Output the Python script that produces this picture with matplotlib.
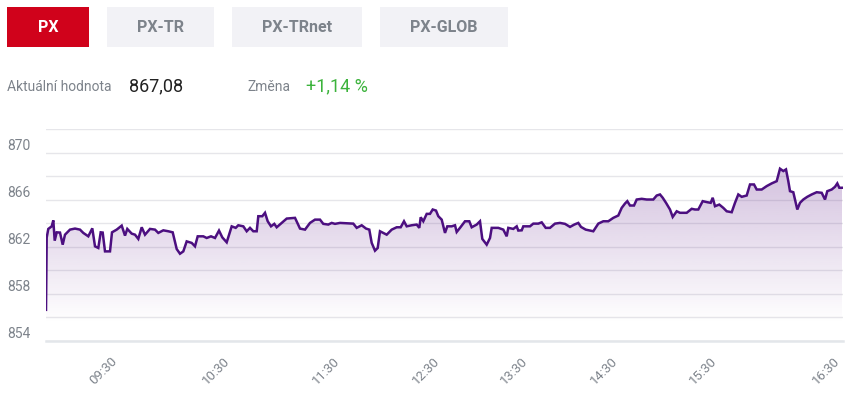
import numpy as np
import matplotlib
matplotlib.use("Agg")
import matplotlib.pyplot as plt
from matplotlib.patches import Rectangle
from matplotlib.colors import to_rgb

W, H = 847, 398

# buttons / header
buttons = ["PX", "PX-TR", "PX-TRnet", "PX-GLOB"]
current_label = "Aktuální hodnota"
current_value = "867,08"
change_label = "Změna"
change_value = "+1,14 %"

# ordinal positions of the intraday points and index values
pos = [0.0, 0.7, 2.3, 5.7, 7.3, 8.7, 10.7, 14.0, 16.7, 19.0, 24.0, 29.0, 34.0, 37.3, 42.3,
       46.3, 49.0, 52.3, 54.7, 56.7, 59.0, 64.0, 66.0, 70.7, 75.7, 79.0, 81.3, 85.7, 89.0,
       92.3, 95.7, 99.0, 104.0, 109.0, 112.3, 117.3, 122.3, 126.7, 130.7, 134.0, 137.3,
       140.7, 144.0, 145.7, 149.0, 151.7, 157.3, 160.7, 165.0, 169.0, 173.0, 176.3, 180.7,
       185.7, 189.7, 192.3, 197.3, 200.7, 204.0, 207.3, 210.7, 212.3, 216.3, 219.0, 221.7,
       225.0, 228.3, 230.7, 235.7, 240.7, 249.0, 254.0, 259.0, 264.0, 269.0, 274.0, 277.3,
       282.3, 285.7, 289.0, 294.0, 307.3, 310.7, 315.7, 320.0, 323.3, 325.7, 329.0, 331.7,
       334.0, 337.3, 340.7, 345.7, 350.7, 354.7, 358.0, 360.7, 365.7, 370.7, 373.3, 374.7,
       377.3, 380.7, 384.0, 386.7, 390.0, 392.3, 395.7, 399.0, 401.3, 405.7, 409.0, 410.7,
       414.0, 419.0, 423.3, 425.7, 430.7, 434.0, 436.3, 440.7, 444.0, 445.7, 452.3, 457.3,
       460.7, 462.3, 467.3, 470.7, 472.3, 475.7, 477.3, 484.0, 487.3, 492.3, 495.7, 499.7,
       504.0, 509.0, 514.0, 519.0, 524.0, 528.3, 532.3, 535.0, 539.7, 547.3, 552.3, 557.3,
       562.3, 567.3, 572.3, 575.7, 579.0, 581.3, 584.0, 588.0, 590.7, 595.7, 600.7, 607.3,
       610.7, 614.0, 616.7, 620.0, 624.0, 626.7, 630.7, 634.0, 640.7, 645.7, 649.0, 652.3,
       656.7, 661.3, 664.7, 666.7, 669.0, 673.3, 677.3, 680.7, 685.7, 689.0, 692.3, 695.7,
       700.7, 704.0, 708.0, 710.7, 715.7, 720.7, 725.7, 730.7, 734.0, 737.3, 740.0, 742.3,
       744.0, 747.3, 751.3, 754.0, 757.3, 761.3, 765.7, 770.7, 775.7, 779.0, 781.3, 785.7,
       789.0, 791.3, 793.3, 796.0]
vals = [856.65, 862.79, 863.53, 863.75, 864.26, 862.53, 863.24, 863.22, 862.19, 863.04, 863.47,
        863.56, 863.47, 863.19, 862.90, 863.58, 862.05, 861.91, 863.24, 863.22, 861.62, 861.62,
        863.24, 863.47, 863.81, 862.96, 863.53, 863.13, 863.04, 862.68, 863.67, 863.04, 863.53,
        863.47, 863.19, 863.41, 863.33, 863.24, 861.82, 861.42, 861.62, 862.47, 862.39, 862.34,
        862.05, 862.90, 862.90, 862.76, 862.90, 862.76, 863.39, 862.81, 862.39, 863.75, 863.62,
        863.84, 863.75, 863.33, 863.62, 863.33, 863.33, 864.61, 864.61, 864.90, 864.18, 863.75,
        863.96, 863.67, 864.04, 864.41, 864.47, 863.56, 863.47, 864.04, 864.32, 864.32, 863.96,
        863.90, 864.04, 863.96, 864.04, 863.98, 863.62, 863.84, 863.56, 863.47, 862.34, 861.68,
        861.91, 863.33, 863.19, 863.04, 863.47, 863.67, 863.67, 864.18, 863.75, 863.84, 863.90,
        863.62, 864.52, 864.18, 864.81, 864.81, 865.18, 865.09, 864.61, 864.32, 863.19, 863.75,
        863.75, 863.84, 863.27, 863.62, 864.18, 864.18, 863.67, 863.90, 864.18, 862.68, 862.19,
        862.76, 863.62, 863.62, 863.47, 862.90, 863.62, 863.53, 863.75, 863.39, 863.41, 863.75,
        863.75, 863.98, 863.98, 864.09, 863.62, 863.62, 863.98, 864.04, 863.96, 863.70, 863.90,
        864.04, 863.70, 863.47, 863.33, 863.98, 864.18, 864.18, 864.47, 864.67, 865.32, 865.69,
        865.89, 865.52, 865.52, 866.03, 866.09, 866.03, 866.03, 866.37, 866.46, 866.18, 865.75,
        865.18, 864.55, 865.03, 864.90, 864.90, 865.24, 865.18, 865.18, 865.89, 865.80, 865.75,
        866.18, 865.46, 865.60, 865.32, 865.03, 864.95, 865.75, 866.46, 866.26, 866.37, 867.31,
        867.31, 866.88, 866.88, 867.17, 867.40, 867.59, 868.65, 868.45, 868.59, 867.59, 866.74,
        866.65, 865.18, 865.75, 866.03, 866.26, 866.46, 866.65, 866.60, 866.03, 866.74, 866.88,
        867.11, 867.40, 867.03, 867.03]

tick_pos = [74, 186, 296, 396, 484, 574, 673, 796]
tick_labels = ["09:30", "10:30", "11:30", "12:30", "13:30", "14:30", "15:30", "16:30"]
y_ticks = [854, 858, 862, 866, 870]
y_grid = [856, 860, 864, 868, 872]

LINE = "#4c0f80"
FILL = "#6a2c91"
GRAY = "#7d838b"

plt.rcParams['font.family'] = ['Roboto', 'DejaVu Sans']

fig = plt.figure(figsize=(W / 100, H / 100), dpi=100)
fig.patch.set_facecolor("white")

def fx(x):
    return x / W

def fy(y):
    return 1 - y / H

# header buttons
btn_boxes = [(7, 89), (107, 214), (232, 362), (380, 508)]
for i, (name, (x0, x1)) in enumerate(zip(buttons, btn_boxes)):
    active = i == 0
    fig.patches.append(Rectangle((fx(x0), fy(47)), fx(x1 - x0), 40 / H, transform=fig.transFigure,
                                 facecolor="#d0021b" if active else "#f2f2f6", edgecolor="none"))
    fig.text(fx((x0 + x1) / 2), fy(27), name, ha="center", va="center", fontsize=11.5,
             fontweight="bold", color="white" if active else GRAY)

fig.text(fx(7), fy(87), current_label, ha="left", va="center", fontsize=10, color=GRAY)
fig.text(fx(129), fy(86), current_value, ha="left", va="center", fontsize=13, color="#222222")
fig.text(fx(247), fy(87), change_label, ha="left", va="center", fontsize=10, color=GRAY)
fig.text(fx(306), fy(86), change_value, ha="left", va="center", fontsize=13, color="#3cb33c")

# chart
ax = fig.add_axes([fx(46), fy(341), fx(797), (341 - 129.3) / H])
ax.set_xlim(0, 797)
ax.set_ylim(854, 872)

x = np.array(pos)
y = np.array(vals)

# gradient under the line
n = 256
lev = np.linspace(854, 872, n)
alpha = np.clip((lev - 855.5) / (869 - 855.5), 0, 1) * 0.3
rgba = np.zeros((n, 1, 4))
rgba[..., :3] = to_rgb(FILL)
rgba[:, 0, 3] = alpha
im = ax.imshow(rgba, extent=[x[0], x[-1], 854, 872], origin="lower", aspect="auto", zorder=1,
               interpolation="bilinear")
poly = ax.fill_between(x, y, 854, color="none", lw=0)
im.set_clip_path(poly.get_paths()[0], transform=ax.transData)

ax.plot(x, y, color=LINE, lw=1.8, zorder=3, solid_joinstyle="miter")

ax.set_yticks(y_ticks)
ax.set_yticklabels([str(v) for v in y_ticks])
ax.set_yticks(y_grid, minor=True)
ax.grid(axis="y", which="both", color="#e6e6ea", lw=1, zorder=0)
ax.set_axisbelow(True)
ax.tick_params(axis="y", which="both", length=0, pad=11, labelsize=10, labelcolor=GRAY)
plt.setp(ax.get_yticklabels(), va="bottom")

ax.set_xticks(tick_pos)
ax.set_xticklabels(tick_labels, rotation=45, ha="right", va="top")
ax.tick_params(axis="x", length=0, pad=10, labelsize=9.5, labelcolor=GRAY)

for side in ["top", "left", "right"]:
    ax.spines[side].set_visible(False)
ax.spines["bottom"].set_color("#e3e6ea")
ax.spines["bottom"].set_linewidth(1.8)
ax.patch.set_alpha(0)

fig.savefig("out.png", dpi=100)
